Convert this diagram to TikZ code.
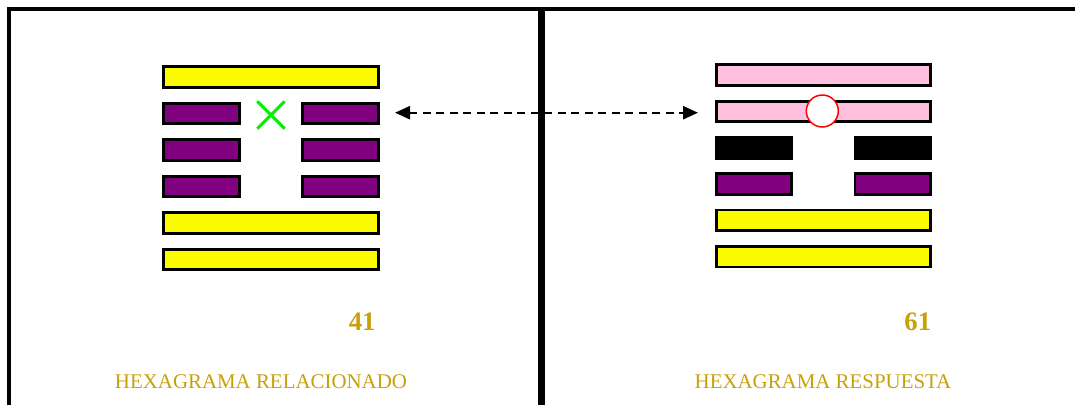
\documentclass[tikz,border=0pt]{standalone}
\usepackage{fontspec}
\setmainfont{Liberation Serif}
\usetikzlibrary{arrows.meta}
\definecolor{yel}{RGB}{252,252,0}
\definecolor{pur}{RGB}{128,0,128}
\definecolor{pnk}{RGB}{255,192,224}
\definecolor{gld}{RGB}{200,160,10}
\definecolor{grn}{RGB}{0,240,0}
\tikzset{
  bar/.style={draw=black, line width=2.9pt, rectangle, inner sep=0pt, minimum height=20.5pt},
  fullbar/.style={bar, minimum width=214.5pt},
  halfbar/.style={bar, minimum width=75.6pt},
  frameline/.style={line width=4pt, line join=miter},
  numlabel/.style={text=gld, anchor=base, font=\bfseries\fontsize{26.7}{30}\selectfont},
  caption/.style={text=gld, anchor=base, font=\fontsize{20.9}{24}\selectfont},
  crossline/.style={draw=grn, line width=3pt},
  link/.style={line width=2.4pt, dash pattern=on 8pt off 5.5pt, {Triangle[length=15pt,width=13pt]}-{Triangle[length=15pt,width=13pt]}}
}
\begin{document}
\begin{tikzpicture}[x=1pt,y=-1pt]
\useasboundingbox (0,0) rectangle (1075,405);
% frame
\coordinate (fbl) at (8.7,405);
\coordinate (ftl) at (8.7,8.7);
\coordinate (ftr) at (1075,8.7);
\coordinate (mtop) at (541.5,8.7);
\coordinate (mbot) at (541.5,405);
\draw[frameline] (fbl) -- (ftl) -- (ftr);
\draw[line width=6.5pt] (mtop) -- (mbot);
% left hexagram
\node[fullbar, fill=yel] (L1) at (271,77) {};
\node[halfbar, fill=pur] (L2a) at (201.5,113.5) {};
\node[halfbar, fill=pur] (L2b) at (340.3,113.5) {};
\node[halfbar, fill=pur] (L3a) at (201.5,150) {};
\node[halfbar, fill=pur] (L3b) at (340.3,150) {};
\node[halfbar, fill=pur] (L4a) at (201.5,186.5) {};
\node[halfbar, fill=pur] (L4b) at (340.3,186.5) {};
\node[fullbar, fill=yel] (L5) at (271,223) {};
\node[fullbar, fill=yel] (L6) at (271,259.5) {};
% cross
\coordinate (cross) at (271,115);
\draw[crossline] (cross) ++(-13.7,-13.7) -- ++(27.4,27.4);
\draw[crossline] (cross) ++(-13.7,13.7) -- ++(27.4,-27.4);
% right hexagram
\node[fullbar, fill=pnk] (R1) at (823.3,74.8) {};
\node[fullbar, fill=pnk] (R2) at (823.3,111.3) {};
\node[halfbar, fill=black] (R3a) at (754,147.8) {};
\node[halfbar, fill=black] (R3b) at (892.8,147.8) {};
\node[halfbar, fill=pur] (R4a) at (754,184) {};
\node[halfbar, fill=pur] (R4b) at (892.8,184) {};
\node[fullbar, fill=yel] (R5) at (823.3,220.2) {};
\node[fullbar, fill=yel] (R6) at (823.3,256.7) {};
% ring
\node[circle, draw=red, fill=white, line width=1.5pt, minimum size=32pt, inner sep=0pt] (ring) at (822.3,111) {};
% link
\coordinate (al) at (395,112.7);
\coordinate (ar) at (698,112.7);
\draw[link] (al) -- (ar);
% labels
\node[numlabel] (n41) at (362.2,330) {41};
\node[numlabel] (n61) at (917.8,330) {61};
\node[caption] (t1) at (261,388.3) {HEXAGRAMA RELACIONADO};
\node[caption] (t2) at (823,388.3) {HEXAGRAMA RESPUESTA};
\end{tikzpicture}
\end{document}
